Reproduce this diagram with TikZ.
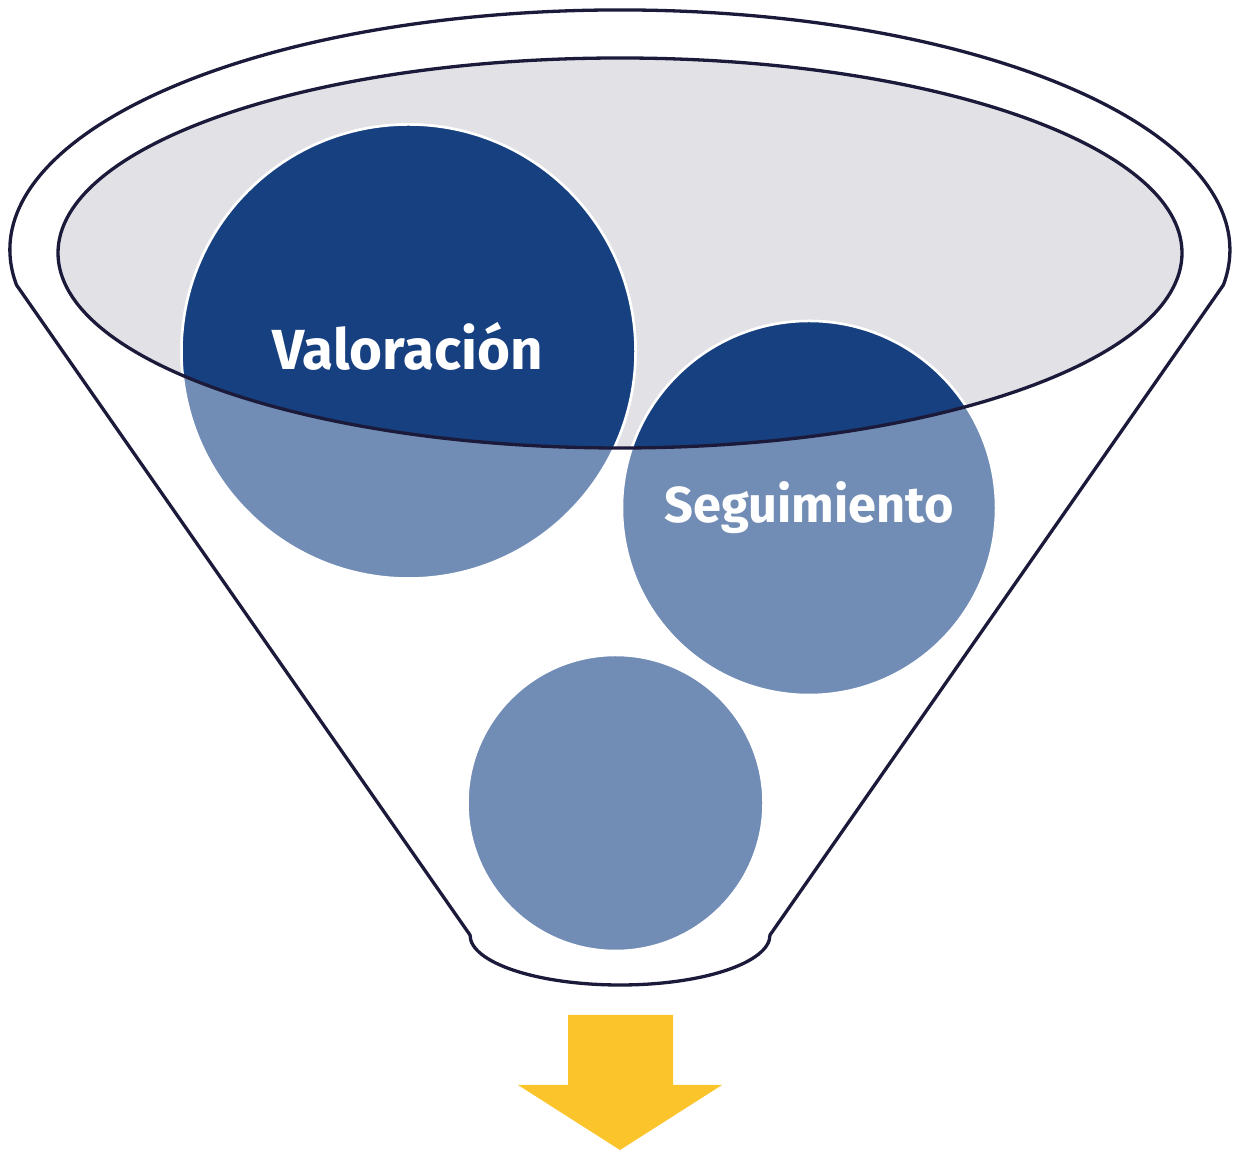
\documentclass[tikz,border=0pt]{standalone}
\usepackage{fontspec}
\setsansfont{Fira Sans}
\definecolor{darkblue}{HTML}{174080}
\definecolor{lightblue}{HTML}{728DB5}
\definecolor{navyline}{HTML}{1B1A3B}
\definecolor{funnelgray}{HTML}{E2E2E6}
\definecolor{arrowyellow}{HTML}{FBC42B}
\begin{document}
\begin{tikzpicture}[x=1pt,y=1pt,
  outline/.style={draw=navyline,line width=3.3pt,line join=round},
  ball/.style={draw=white,line width=2.5pt},
  label/.style={text=white,font=\sffamily\bfseries,inner sep=0pt,anchor=base}]
\useasboundingbox (0,0) rectangle (1233,1150);
% funnel body
\draw[outline,fill=white] (16.5,865) arc[start angle=188.4,end angle=-8.4,x radius=610pt,y radius=240pt]
  -- (770,215) arc[start angle=0,end angle=-180,x radius=150pt,y radius=50pt] -- cycle;
% inner ellipse
\fill[funnelgray] (620,897) ellipse[x radius=562pt,y radius=195pt];
% circles (outside part)
\path[ball,fill=lightblue] (408.5,798.5) circle[radius=227pt];
\path[ball,fill=lightblue] (809,642) circle[radius=187pt];
\path[ball,fill=lightblue] (615.5,347) circle[radius=148pt];
% circles (inside ellipse part)
\begin{scope}
  \clip (620,897) ellipse[x radius=562pt,y radius=195pt];
  \path[ball,fill=darkblue] (408.5,798.5) circle[radius=227pt];
  \path[ball,fill=darkblue] (809,642) circle[radius=187pt];
\end{scope}
\draw[outline] (620,897) ellipse[x radius=562pt,y radius=195pt];
% labels
\node[label,font=\sffamily\bfseries\fontsize{56.5}{68}\selectfont] (val) at (408,780) {Valoración};
\node[label,font=\sffamily\bfseries\fontsize{50.5}{60}\selectfont] (seg) at (809,627) {Seguimiento};
% arrow
\fill[arrowyellow] (568,135) -- (673,135) -- (673,65) -- (722,65) -- (620,0) -- (518,65) -- (568,65) -- cycle;
\end{tikzpicture}
\end{document}
